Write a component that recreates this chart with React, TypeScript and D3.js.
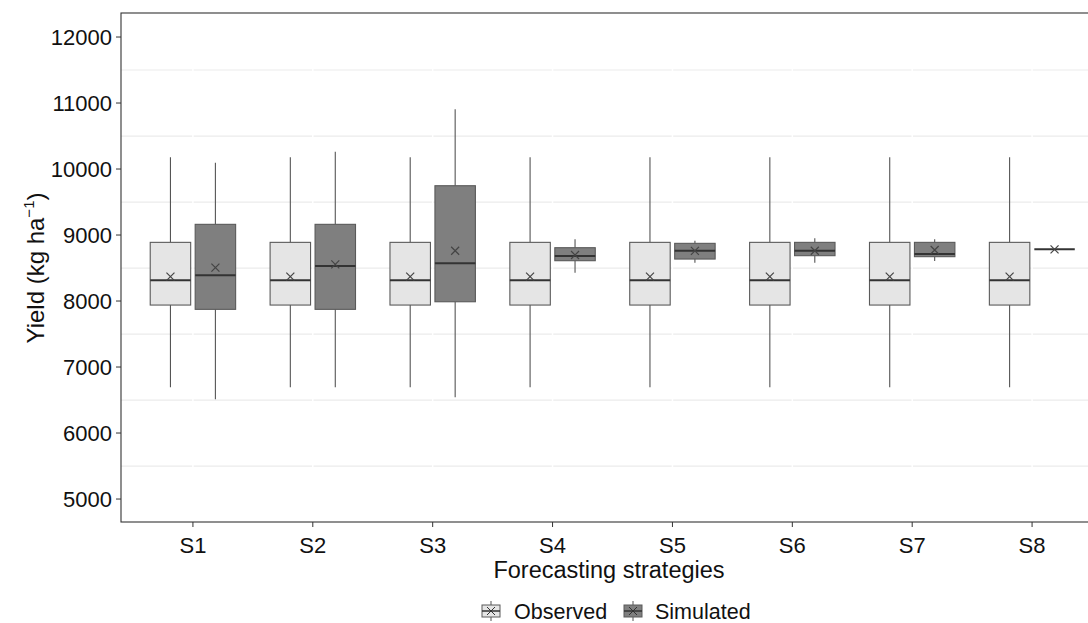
import * as d3 from 'd3'

const strategies = ['S1', 'S2', 'S3', 'S4', 'S5', 'S6', 'S7', 'S8']
const groups = ['Observed', 'Simulated']

// [lower whisker, q1, median, q3, upper whisker, mean]
const observed = [
	[6692, 7939, 8314, 8889, 10177, 8369],
	[6692, 7939, 8314, 8889, 10177, 8369],
	[6692, 7939, 8314, 8889, 10177, 8369],
	[6692, 7939, 8314, 8889, 10177, 8369],
	[6692, 7939, 8314, 8889, 10177, 8369],
	[6692, 7939, 8314, 8889, 10177, 8369],
	[6692, 7939, 8314, 8889, 10177, 8369],
	[6692, 7939, 8314, 8889, 10177, 8369],
]
const simulated = [
	[6511, 7874, 8389, 9162, 10096, 8505],
	[6692, 7874, 8530, 9162, 10262, 8556],
	[6541, 7989, 8571, 9747, 10905, 8762],
	[8429, 8611, 8682, 8808, 8935, 8697],
	[8581, 8636, 8762, 8874, 8914, 8760],
	[8581, 8687, 8762, 8889, 8950, 8762],
	[8606, 8672, 8712, 8889, 8935, 8773],
	[8783, 8783, 8783, 8783, 8783, 8783],
]
const yTicks = [5000, 6000, 7000, 8000, 9000, 10000, 11000, 12000]
const yMinor = [5500, 6500, 7500, 8500, 9500, 10500, 11500]

const fills = { Observed: '#e5e5e5', Simulated: '#7f7f7f' }
const font = 'Liberation Sans, Arial, sans-serif'

const W = 1088
const H = 623
const left = 121
const right = 1104
const top = 13
const bottom = 522

function BoxMark({ cx, bw, s, fill, y }) {
	const [lo, q1, med, q3, hi, mean] = s
	const x0 = cx - bw / 2
	const m = 4
	return (
		<g>
			<line x1={cx} x2={cx} y1={y(hi)} y2={y(q3)} stroke="#555" strokeWidth={1.1} />
			<line x1={cx} x2={cx} y1={y(q1)} y2={y(lo)} stroke="#555" strokeWidth={1.1} />
			<rect x={x0} y={y(q3)} width={bw} height={Math.max(0, y(q1) - y(q3))} fill={fill} stroke="#5a5a5a" strokeWidth={1.1} />
			<line x1={x0} x2={x0 + bw} y1={y(med)} y2={y(med)} stroke="#333" strokeWidth={2} />
			<path
				d={`M${cx - m},${y(mean) - m}L${cx + m},${y(mean) + m}M${cx - m},${y(mean) + m}L${cx + m},${y(mean) - m}`}
				stroke="#444"
				strokeWidth={1.2}
			/>
		</g>
	)
}

function LegendKey({ x, y, fill }) {
	return (
		<g>
			<line x1={x + 9} x2={x + 9} y1={y - 10} y2={y + 10} stroke="#555" />
			<rect x={x} y={y - 6} width={18} height={12} fill={fill} stroke="#5a5a5a" />
			<line x1={x} x2={x + 18} y1={y} y2={y} stroke="#333" strokeWidth={1.5} />
			<path d={`M${x + 5},${y - 4}L${x + 13},${y + 4}M${x + 5},${y + 4}L${x + 13},${y - 4}`} stroke="#333" />
		</g>
	)
}

export default function App() {
	// ggplot-style discrete axis: 0.6 units of expansion on each side
	const pos = d3
		.scaleLinear()
		.domain([-0.6, strategies.length - 1 + 0.6])
		.range([left, right])
	const cx = (s: string) => pos(strategies.indexOf(s))
	const step = pos(1) - pos(0)
	const y = d3.scaleLinear().domain([4652, 12364]).range([bottom, top])
	const dodge = step * 0.75
	const bw = (dodge / 2) * 0.9

	return (
		<svg width={W} height={H} style={{ position: 'absolute', left: 0, top: 0, fontFamily: font }}>
			<rect x={0} y={0} width={W} height={H} fill="#fff" />
			{yMinor.map(v => (
				<line key={v} x1={left} x2={right} y1={y(v)} y2={y(v)} stroke="#ebebeb" strokeWidth={1.2} />
			))}
			{strategies.map(s => (
				<line key={s} x1={cx(s)} x2={cx(s)} y1={top} y2={bottom} stroke="#fff" strokeWidth={1.5} />
			))}
			{strategies.map((s, i) =>
				groups.map((g, j) => (
					<BoxMark
						key={s + g}
						cx={cx(s) + (j === 0 ? -dodge / 4 : dodge / 4)}
						bw={bw}
						s={j === 0 ? observed[i] : simulated[i]}
						fill={fills[g]}
						y={y}
					/>
				))
			)}
			<rect x={left} y={top} width={right - left} height={bottom - top} fill="none" stroke="#333" strokeWidth={1.1} />
			{yTicks.map(v => (
				<g key={v}>
					<line x1={left - 5} x2={left} y1={y(v)} y2={y(v)} stroke="#333" />
					<text x={left - 9} y={y(v)} dy="0.36em" textAnchor="end" fontSize={22} fill="#111">
						{v}
					</text>
				</g>
			))}
			{strategies.map(s => (
				<g key={s}>
					<line x1={cx(s)} x2={cx(s)} y1={bottom} y2={bottom + 5} stroke="#333" />
					<text x={cx(s)} y={bottom + 31} textAnchor="middle" fontSize={22} fill="#111">
						{s}
					</text>
				</g>
			))}
			<text x={609} y={578} textAnchor="middle" fontSize={23.5} fill="#111">
				Forecasting strategies
			</text>
			<text transform={`translate(44,268) rotate(-90)`} textAnchor="middle" fontSize={24} fill="#111">
				Yield (kg ha
				<tspan dy={-10} fontSize={15}>
					−1
				</tspan>
				<tspan dy={10}>)</tspan>
			</text>
			<LegendKey x={482} y={611} fill={fills.Observed} />
			<text x={514} y={611} dy="0.36em" fontSize={21.5} fill="#111">
				Observed
			</text>
			<LegendKey x={624} y={611} fill={fills.Simulated} />
			<text x={655} y={611} dy="0.36em" fontSize={21.5} fill="#111">
				Simulated
			</text>
		</svg>
	)
}
